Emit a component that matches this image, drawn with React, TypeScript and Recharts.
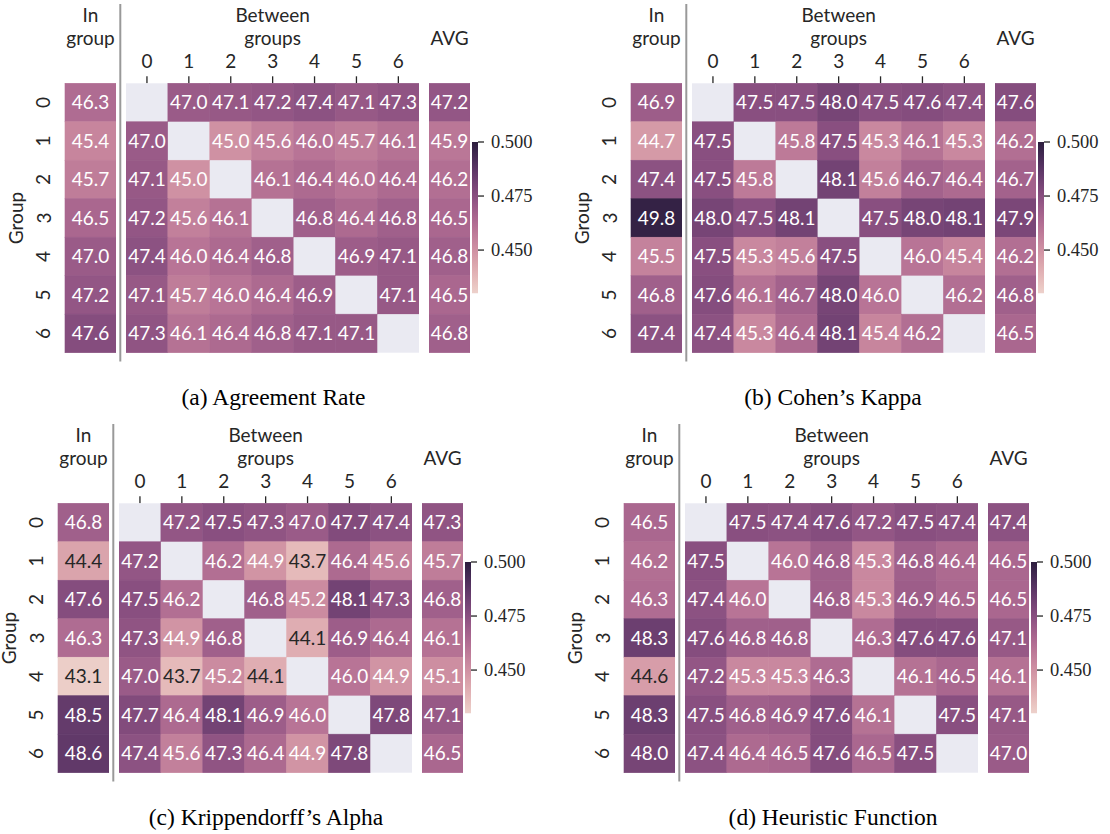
import React from 'react';
import { ScatterChart, Scatter, XAxis, YAxis, ReferenceArea } from 'recharts';

const groups = [0, 1, 2, 3, 4, 5, 6];
const colorbarTicks = [0.45, 0.475, 0.5];
const vmin = 0.43;
const vmax = 0.5;

const agreementIn = [46.3, 45.4, 45.7, 46.5, 47.0, 47.2, 47.6];
const agreementBetween = [
  [null, 47.0, 47.1, 47.2, 47.4, 47.1, 47.3],
  [47.0, null, 45.0, 45.6, 46.0, 45.7, 46.1],
  [47.1, 45.0, null, 46.1, 46.4, 46.0, 46.4],
  [47.2, 45.6, 46.1, null, 46.8, 46.4, 46.8],
  [47.4, 46.0, 46.4, 46.8, null, 46.9, 47.1],
  [47.1, 45.7, 46.0, 46.4, 46.9, null, 47.1],
  [47.3, 46.1, 46.4, 46.8, 47.1, 47.1, null],
];
const agreementAvg = [47.2, 45.9, 46.2, 46.5, 46.8, 46.5, 46.8];

const kappaIn = [46.9, 44.7, 47.4, 49.8, 45.5, 46.8, 47.4];
const kappaBetween = [
  [null, 47.5, 47.5, 48.0, 47.5, 47.6, 47.4],
  [47.5, null, 45.8, 47.5, 45.3, 46.1, 45.3],
  [47.5, 45.8, null, 48.1, 45.6, 46.7, 46.4],
  [48.0, 47.5, 48.1, null, 47.5, 48.0, 48.1],
  [47.5, 45.3, 45.6, 47.5, null, 46.0, 45.4],
  [47.6, 46.1, 46.7, 48.0, 46.0, null, 46.2],
  [47.4, 45.3, 46.4, 48.1, 45.4, 46.2, null],
];
const kappaAvg = [47.6, 46.2, 46.7, 47.9, 46.2, 46.8, 46.5];

const alphaIn = [46.8, 44.4, 47.6, 46.3, 43.1, 48.5, 48.6];
const alphaBetween = [
  [null, 47.2, 47.5, 47.3, 47.0, 47.7, 47.4],
  [47.2, null, 46.2, 44.9, 43.7, 46.4, 45.6],
  [47.5, 46.2, null, 46.8, 45.2, 48.1, 47.3],
  [47.3, 44.9, 46.8, null, 44.1, 46.9, 46.4],
  [47.0, 43.7, 45.2, 44.1, null, 46.0, 44.9],
  [47.7, 46.4, 48.1, 46.9, 46.0, null, 47.8],
  [47.4, 45.6, 47.3, 46.4, 44.9, 47.8, null],
];
const alphaAvg = [47.3, 45.7, 46.8, 46.1, 45.1, 47.1, 46.5];

const heuristicIn = [46.5, 46.2, 46.3, 48.3, 44.6, 48.3, 48.0];
const heuristicBetween = [
  [null, 47.5, 47.4, 47.6, 47.2, 47.5, 47.4],
  [47.5, null, 46.0, 46.8, 45.3, 46.8, 46.4],
  [47.4, 46.0, null, 46.8, 45.3, 46.9, 46.5],
  [47.6, 46.8, 46.8, null, 46.3, 47.6, 47.6],
  [47.2, 45.3, 45.3, 46.3, null, 46.1, 46.5],
  [47.5, 46.8, 46.9, 47.6, 46.1, null, 47.5],
  [47.4, 46.4, 46.5, 47.6, 46.5, 47.5, null],
];
const heuristicAvg = [47.4, 46.5, 46.5, 47.1, 46.1, 47.1, 47.0];

const SANS = 'Lato, "DejaVu Sans", sans-serif';
const SERIF = '"Liberation Serif", "DejaVu Serif", serif';
const INK = '#262626';
const MASK = '#eaeaf2';

// seaborn cubehelix_palette(as_cmap=True): light=.85 -> dark=.15
function cubehelix(x: number) {
  const a = (0.8 * x * (1 - x)) / 2;
  const phi = 2 * Math.PI * (0.4 * x);
  const c = Math.cos(phi);
  const s = Math.sin(phi);
  const r = x + a * (-0.14861 * c + 1.78277 * s);
  const g = x + a * (-0.29227 * c - 0.90649 * s);
  const b = x + a * (1.97294 * c);
  return [r, g, b].map((v) => Math.min(1, Math.max(0, v)));
}

function cmapRgb(value: number) {
  const t = Math.min(1, Math.max(0, (value - vmin) / (vmax - vmin)));
  return cubehelix(0.85 - 0.7 * t);
}

function toHex(rgb: number[]) {
  return '#' + rgb.map((v) => Math.round(v * 255).toString(16).padStart(2, '0')).join('');
}

function textColor(rgb: number[]) {
  const lin = rgb.map((v) => (v <= 0.03928 ? v / 12.92 : Math.pow((v + 0.055) / 1.055, 2.4)));
  const lum = 0.2126 * lin[0] + 0.7152 * lin[1] + 0.0722 * lin[2];
  return lum > 0.408 ? INK : '#ffffff';
}

// layout of one panel (relative to its origin)
const CELL_TOP = 83.3;
const CELL_BOTTOM = 352.7;
const CHART_H = 360;
const ROW_H = (CELL_BOTTOM - CELL_TOP) / 7;

const cellShape = (cw: number) => (props: any) => {
  const { cx, cy, payload } = props;
  const v = payload.v;
  if (v == null) {
    return <rect x={cx - cw / 2} y={cy - ROW_H / 2} width={cw} height={ROW_H} fill={MASK} />;
  }
  const rgb = cmapRgb(v / 100);
  const fill = toHex(rgb);
  return (
    <g>
      <rect x={cx - cw / 2} y={cy - ROW_H / 2} width={cw} height={ROW_H} fill={fill} stroke={fill} strokeWidth={0.6} />
      <text x={cx} y={cy + 6.8} textAnchor="middle" fontFamily={SANS} fontSize={19} fill={textColor(rgb)}>
        {v.toFixed(1)}
      </text>
    </g>
  );
};

const ColTitle = ({ cx, lines }: any) => (
  <g>
    {lines.map((l: string, i: number) => (
      <text key={l} x={cx} y={22 + i * 23} textAnchor="middle" fontFamily={SANS} fontSize={19} fill={INK}>
        {l}
      </text>
    ))}
  </g>
);

const ColTick = (props: any) => {
  const { x, payload } = props;
  return (
    <text x={x} y={68.3} textAnchor="middle" fontFamily={SANS} fontSize={19} fill={INK}>
      {payload.value}
    </text>
  );
};

const RowTick = (props: any) => {
  const { y, payload } = props;
  return (
    <text x={50.5} y={y} transform={`rotate(-90 50.5 ${y})`} textAnchor="middle" fontFamily={SANS} fontSize={19} fill={INK}>
      {payload.value}
    </text>
  );
};

const CbarTick = (props: any) => {
  const { y, payload } = props;
  return (
    <text x={19} y={y + 6} textAnchor="start" fontSize={18.5} fill={INK} style={{ fontFamily: SERIF }}>
      {Number(payload.value).toFixed(3)}
    </text>
  );
};

const GroupLabel = () => (
  <text x={23} y={218} transform="rotate(-90 23 218)" textAnchor="middle" fontFamily={SANS} fontSize={19} fill={INK}>
    Group
  </text>
);

function Panel({ id, x0, y0, inGroup, between, avg }: any) {
  const inData = inGroup.map((v: number, i: number) => ({ x: 0, y: i, v }));
  const betData = between.flatMap((row: (number | null)[], i: number) => row.map((v, j) => ({ x: j, y: i, v })));
  const avgData = avg.map((v: number, i: number) => ({ x: 0, y: i, v }));
  const stops = Array.from({ length: 21 }, (_, k) => k / 20);
  const yProps = { type: 'number' as const, dataKey: 'y', domain: [-0.5, 6.5], reversed: true, ticks: groups };

  return (
    <>
      <div style={{ position: 'absolute', left: x0, top: y0 }}>
        <ScatterChart width={116} height={CHART_H} margin={{ top: 0, right: 0, bottom: CHART_H - CELL_BOTTOM, left: 0 }}>
          <XAxis
            type="number"
            dataKey="x"
            orientation="top"
            domain={[-0.5, 0.5]}
            ticks={[0]}
            height={CELL_TOP}
            tick={false}
            tickLine={false}
            axisLine={false}
            label={<ColTitle cx={90.5} lines={['In', 'group']} />}
          />
          <YAxis {...yProps} width={65} interval={0} tick={<RowTick />} tickLine={false} axisLine={false} label={<GroupLabel />} />
          <Scatter data={inData} shape={cellShape(51)} isAnimationActive={false} />
        </ScatterChart>
      </div>

      <div style={{ position: 'absolute', left: x0 + 126, top: y0 }}>
        <ScatterChart width={293.3} height={CHART_H} margin={{ top: 0, right: 0, bottom: CHART_H - CELL_BOTTOM, left: 0 }}>
          <XAxis
            type="number"
            dataKey="x"
            orientation="top"
            domain={[-0.5, 6.5]}
            ticks={groups}
            interval={0}
            height={CELL_TOP}
            tickSize={7}
            tickLine={{ stroke: INK, strokeWidth: 1.3 }}
            axisLine={false}
            tick={<ColTick />}
            label={<ColTitle cx={146.65} lines={['Between', 'groups']} />}
          />
          <YAxis {...yProps} hide />
          <Scatter data={betData} shape={cellShape(293.3 / 7)} isAnimationActive={false} />
        </ScatterChart>
      </div>

      <div style={{ position: 'absolute', left: x0 + 429, top: y0 }}>
        <ScatterChart width={41} height={CHART_H} margin={{ top: 0, right: 0, bottom: CHART_H - CELL_BOTTOM, left: 0 }}>
          <XAxis
            type="number"
            dataKey="x"
            orientation="top"
            domain={[-0.5, 0.5]}
            ticks={[0]}
            height={CELL_TOP}
            tick={false}
            tickLine={false}
            axisLine={false}
            label={<ColTitle cx={20.5} lines={['', 'AVG']} />}
          />
          <YAxis {...yProps} hide />
          <Scatter data={avgData} shape={cellShape(41)} isAnimationActive={false} />
        </ScatterChart>
      </div>

      <div style={{ position: 'absolute', left: x0 + 472, top: y0 + 132 }}>
        <ScatterChart width={90} height={171.3} margin={{ top: 10, right: 0, bottom: 10, left: 0 }}>
          <defs>
            <linearGradient id={`cbar-${id}`} x1="0" y1="1" x2="0" y2="0">
              {stops.map((s) => (
                <stop key={s} offset={s} stopColor={toHex(cmapRgb(vmin + s * (vmax - vmin)))} />
              ))}
            </linearGradient>
          </defs>
          <XAxis type="number" dataKey="x" domain={[0, 1]} hide />
          <YAxis
            type="number"
            dataKey="y"
            orientation="right"
            domain={[vmin, vmax]}
            ticks={colorbarTicks}
            width={84}
            tickSize={6}
            tickLine={{ stroke: INK, strokeWidth: 1.3 }}
            axisLine={false}
            tick={<CbarTick />}
          />
          <ReferenceArea x1={0} x2={1} y1={vmin} y2={vmax} fill={`url(#cbar-${id})`} fillOpacity={1} stroke="none" />
          <Scatter data={[{ x: 0, y: vmin }, { x: 1, y: vmax }]} shape={() => null} isAnimationActive={false} />
        </ScatterChart>
      </div>
    </>
  );
}

const panels = [
  { id: 'a', x0: 0, y0: 0, inGroup: agreementIn, between: agreementBetween, avg: agreementAvg, caption: '(a) Agreement Rate', capX: 273.5 },
  { id: 'b', x0: 566, y0: 0, inGroup: kappaIn, between: kappaBetween, avg: kappaAvg, caption: '(b) Cohen\u2019s Kappa', capX: 833 },
  { id: 'c', x0: -7, y0: 420, inGroup: alphaIn, between: alphaBetween, avg: alphaAvg, caption: '(c) Krippendorff\u2019s Alpha', capX: 266 },
  { id: 'd', x0: 559, y0: 420, inGroup: heuristicIn, between: heuristicBetween, avg: heuristicAvg, caption: '(d) Heuristic Function', capX: 833 },
];

export default function App() {
  return (
    <div style={{ position: 'absolute', left: 0, top: 0, width: 1110, height: 834, background: '#fff', overflow: 'hidden' }}>
      {panels.map((p) => (
        <Panel key={p.id} {...p} />
      ))}
      <svg width={1110} height={834} style={{ position: 'absolute', left: 0, top: 0, pointerEvents: 'none' }}>
        {panels.map((p) => (
          <g key={p.id}>
            <line x1={p.x0 + 120.3} x2={p.x0 + 120.3} y1={p.y0 + 4} y2={p.y0 + 361.5} stroke="#999999" strokeWidth={2} />
            <text x={p.capX} y={p.y0 + 405} textAnchor="middle" fontFamily={SERIF} fontSize={23.5} fill="#000">
              {p.caption}
            </text>
          </g>
        ))}
      </svg>
    </div>
  );
}
